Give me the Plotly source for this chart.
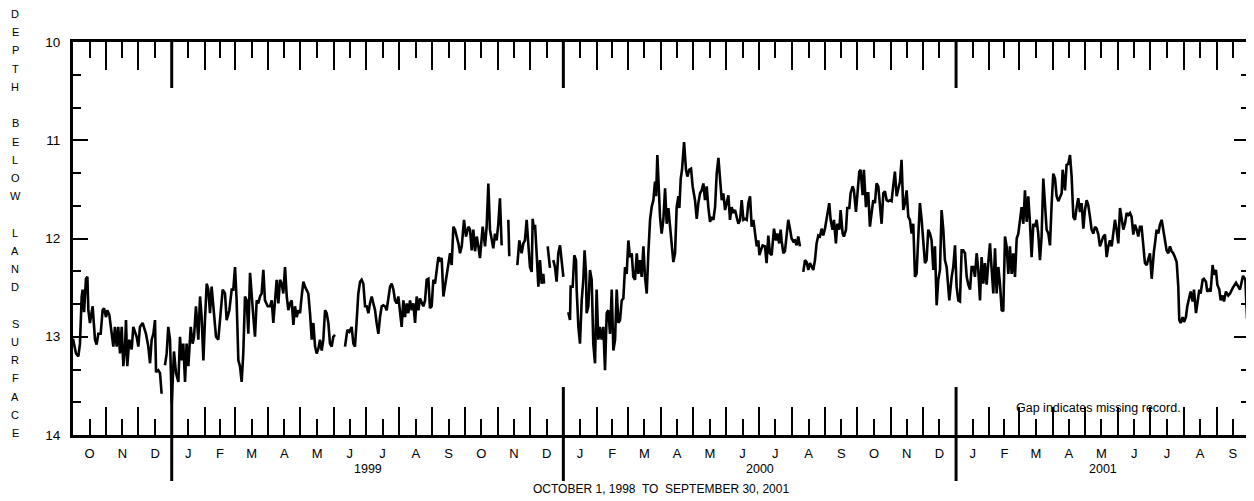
import pandas as pd
import plotly.graph_objects as go

# ---------------- data ----------------
record_start = "1998-10-01"
record_end = "2001-10-01"

# (days since 1998-10-01, depth below land surface in feet); None = missing record
readings = [
    (0, 13.02), (2.8, 13.17), (5, 13.20), (6.5, 13.07), (8.1, 12.59), (9, 12.52), (10.3, 12.75),
    (12.1, 12.41), (13.4, 12.39), (14.3, 12.73), (15.8, 12.86), (18.3, 12.69), (20.5, 13.03),
    (22, 13.08), (23.6, 12.97), (25.8, 12.97), (27.6, 12.73), (28.9, 12.71), (30.8, 12.80),
    (32, 12.73), (33.9, 12.78), (36, 12.97), (37.6, 13.10), (39.1, 12.90), (40.7, 13.10),
    (42.2, 12.90), (43.8, 13.17), (45.4, 12.90), (46.9, 13.30), (48.5, 13.10), (49.4, 12.83),
    (50.6, 13.30), (52.5, 13.03), (54.7, 13.13), (56.2, 12.90), (57.8, 12.95), (59.3, 13.00),
    (60.9, 13.10), (62.4, 12.90), (64.9, 12.86), (66.2, 12.90), (68, 12.97), (70.2, 13.10),
    (71.8, 13.27), (73.3, 13.03), (74.9, 12.97), (76.4, 12.83), (77.4, 13.36), (79.5, 13.34),
    (81.1, 13.37), (82.6, 13.58), (84, None),
    (85.7, 13.29), (87.3, 13.17), (88.8, 12.90), (90.4, 13.03), (92, 13.68), (94.1, 13.15),
    (96, 13.37), (98.2, 13.46), (99.7, 13.00), (101.3, 13.24), (102.8, 13.07), (104.4, 13.46),
    (105.9, 13.07), (107.5, 13.30), (109.7, 12.90), (111.5, 13.07), (112.8, 13.00), (114.6, 12.69),
    (116.8, 13.03), (118.4, 12.59), (119.9, 12.80), (121.5, 13.24), (123, 12.83), (124.6, 12.46),
    (126.1, 12.52), (127.7, 12.76), (129.2, 12.49), (130.8, 12.73), (133.3, 13.00), (135.4, 13.03),
    (137, 12.80), (139.5, 12.52), (141.7, 12.56), (143.2, 12.83), (145.7, 12.73), (147.9, 12.52),
    (149.4, 12.52), (151, 12.29), (152.5, 12.63), (154.1, 13.24), (155.6, 13.30), (157.2, 13.46),
    (158.7, 13.17), (160.3, 12.59), (161.9, 12.63), (163.4, 12.97), (165, 12.35), (166.5, 12.63),
    (168.1, 12.80), (169.6, 13.00), (171.2, 12.63), (172.7, 12.66), (174.3, 12.59), (175.8, 12.56),
    (177.4, 12.32), (178.9, 12.63), (181.5, 12.69), (183.6, 12.69), (185.2, 12.63), (186.7, 12.86),
    (188.3, 12.59), (189.8, 12.42), (191.4, 12.66), (192.9, 12.42), (194.5, 12.46), (196, 12.56),
    (197.6, 12.29), (199.2, 12.59), (200.7, 12.73), (202.3, 12.66), (203.8, 12.63), (205.4, 12.88),
    (206.9, 12.69), (208.5, 12.80), (210, 12.73), (211.6, 12.76), (213.1, 12.59), (214.7, 12.44),
    (216.2, 12.49), (219.3, 12.56), (220.9, 12.76), (222.5, 13.03), (224, 12.86), (225.6, 13.10),
    (227.1, 13.17), (228.7, 13.12), (230.2, 13.03), (231.8, 13.14), (233.3, 13.03), (234.9, 12.73),
    (236.4, 12.76), (238, 12.86), (239.5, 13.07), (241.1, 13.10), (242.6, 13.00), (244.2, 12.98),
    (249, None),
    (253.5, 13.10), (255.7, 12.93), (257.6, 12.95), (259.7, 12.90), (261.3, 13.07), (262.8, 13.10),
    (264.4, 12.83), (265.9, 12.56), (267.5, 12.44), (269, 12.42), (270.6, 12.46), (272.2, 12.69),
    (273.7, 12.69), (275.3, 12.76), (276.8, 12.66), (278.4, 12.59), (279.9, 12.66), (281.5, 12.73),
    (283, 12.86), (284.6, 12.97), (286.1, 12.80), (287.7, 12.69), (289.2, 12.68), (290.8, 12.69),
    (292.3, 12.73), (293.9, 12.63), (295.5, 12.49), (297, 12.46), (298.6, 12.52), (300.1, 12.63),
    (301.7, 12.66), (303.2, 12.59), (304.8, 12.73), (306.3, 12.90), (307.9, 12.63), (309.4, 12.80),
    (311, 12.66), (312.5, 12.76), (314.1, 12.63), (315.6, 12.73), (317.2, 12.66), (318.8, 12.86),
    (320.3, 12.59), (321.9, 12.73), (323.4, 12.61), (325, 12.66), (326.5, 12.69), (328.1, 12.63),
    (329.6, 12.42), (331.2, 12.41), (332.7, 12.71), (334.3, 12.69), (335.8, 12.42), (337.4, 12.46),
    (338.9, 12.35), (340.5, 12.19), (342.1, 12.22), (343.6, 12.20), (345.2, 12.59), (346.7, 12.49),
    (348.3, 12.35), (349.8, 12.29), (351.4, 12.15), (352.9, 12.27), (354.5, 11.88), (356, 11.91),
    (359.2, 12.05), (360.7, 12.15), (362.3, 12.08), (364.4, 11.81), (366.3, 11.98), (368.5, 11.88),
    (370, 11.91), (371.6, 12.12), (373.1, 11.91), (374.7, 12.13), (376.3, 11.98), (377.8, 12.08),
    (379.3, 12.20), (381.8, 11.88), (384, 12.08), (385.5, 11.88), (387.1, 11.44), (388.6, 11.91),
    (390.2, 12.02), (391.7, 12.10), (393.3, 11.95), (394.8, 12.02), (396.4, 11.85), (397.9, 11.59),
    (399.5, 12.07), (402.5, None),
    (405.7, 11.81), (406.6, 12.18), (410, None),
    (414.1, 12.27), (416, 12.02), (418.1, 12.15), (419.7, 12.05), (421.2, 12.02), (422.8, 11.81),
    (424.3, 12.05), (425.9, 12.29), (427.5, 12.34), (428.4, 11.80), (429.6, 11.91), (430.6, 11.86),
    (432.1, 12.15), (433.7, 12.49), (435.2, 12.22), (436.8, 12.46), (438.3, 12.36), (439, 12.46),
    (440.7, None),
    (442.4, 12.08), (444.5, 12.30), (446, None),
    (447.6, 12.22), (449.2, 12.29), (450.7, 12.44), (452.3, 12.15), (453.9, 12.07), (455.4, 12.22),
    (457, 12.39), (459, None),
    (461.6, 12.75), (463.2, 12.83), (463.8, 12.49), (465.7, 12.49), (467.2, 12.17), (468.8, 12.22),
    (469.4, 12.52), (471, 12.90), (472.5, 13.07), (474.1, 12.63), (475.6, 12.42), (476.8, 12.12),
    (478.1, 12.36), (478.7, 12.76), (480.3, 12.69), (481.8, 12.32), (483.4, 12.42), (484.9, 13.07),
    (486.5, 13.27), (488, 12.52), (489.6, 13.03), (491.1, 12.90), (492.7, 13.03), (494.3, 12.90),
    (495.8, 13.34), (497.4, 12.76), (498.9, 12.73), (500.5, 12.97), (502.1, 12.52), (503.6, 13.14),
    (505.2, 13.03), (506.7, 12.52), (508.3, 12.86), (509.8, 12.83), (511.4, 12.63), (512.9, 12.61),
    (514.5, 12.29), (516, 12.36), (517.6, 12.02), (519.1, 12.19), (520.7, 12.15), (522.2, 12.39),
    (523.8, 12.42), (525.4, 12.15), (526.9, 12.36), (528.5, 12.22), (530, 12.39), (531.6, 12.08),
    (533.1, 12.39), (534.7, 12.56), (536.2, 12.15), (537.8, 11.81), (539.3, 11.68), (540.9, 11.61),
    (542.4, 11.42), (543.4, 11.57), (544.6, 11.15), (546.2, 11.64), (547.1, 11.78), (548.6, 11.95),
    (550.2, 11.81), (551.8, 11.49), (553.3, 11.85), (554.9, 11.69), (556.4, 11.85), (558, 12.07),
    (559.5, 12.24), (561.1, 12.15), (562.6, 11.68), (564.2, 11.57), (565.1, 11.69), (566.4, 11.39),
    (567.6, 11.30), (569.5, 11.02), (571.3, 11.30), (572.6, 11.37), (574.4, 11.30), (576, 11.29),
    (577.5, 11.47), (579.7, 11.61), (581.3, 11.80), (582.8, 11.64), (584.4, 11.54), (585.9, 11.51),
    (587.5, 11.44), (589, 11.61), (590.6, 11.47), (592.1, 11.68), (593.7, 11.83), (595.2, 11.78),
    (596.8, 11.81), (598.4, 11.68), (599.9, 11.34), (601.5, 11.18), (603, 11.37), (604.6, 11.61),
    (606.1, 11.54), (607.7, 11.71), (609.2, 11.64), (610.8, 11.56), (612.3, 11.81), (613.9, 11.68),
    (615.4, 11.74), (617, 11.71), (618.5, 11.78), (620.1, 11.85), (621.7, 11.81), (623.2, 11.61),
    (624.8, 11.81), (626.3, 11.80), (627.9, 11.81), (629.4, 11.64), (631, 11.57), (632.5, 11.88),
    (634.1, 11.81), (635.6, 11.96), (637.2, 12.08), (638.7, 12.02), (639.7, 12.17), (640.8, 12.13),
    (642.7, 12.07), (644.9, 12.08), (646.4, 12.25), (648, 11.97), (649.5, 12.15), (651.1, 12.17),
    (653.3, 11.90), (655.1, 12.02), (656.4, 11.95), (658.2, 12.05), (659.5, 11.91), (660.4, 12.02),
    (662, 12.15), (663.5, 12.13), (665.1, 11.95), (666.6, 11.81), (668.2, 11.90), (669.7, 12.00),
    (671.3, 12.03), (672.8, 12.02), (674.4, 12.07), (675.9, 11.98), (677.5, 12.08), (679, None),
    (680.6, 12.34), (682.2, 12.22), (683.7, 12.24), (685.3, 12.32), (686.8, 12.25), (688.4, 12.29),
    (689.9, 12.32), (691.5, 12.22), (693, 12.05), (694.6, 11.97), (696.1, 11.98), (697.7, 11.90),
    (699.2, 11.97), (700.8, 11.90), (702.4, 11.81), (703.9, 11.71), (704.8, 11.64), (706.1, 11.81),
    (707.9, 11.91), (709.2, 11.81), (711, 12.05), (712.3, 11.85), (714.2, 11.91), (715.4, 11.71),
    (717.3, 11.95), (718.5, 11.98), (720.4, 11.91), (721.6, 11.69), (723.5, 11.69), (724.7, 11.54),
    (726.6, 11.47), (727.8, 11.51), (729.7, 11.73), (730.9, 11.57), (732.8, 11.32), (734, 11.30),
    (735.9, 11.56), (737.1, 11.30), (739, 11.68), (740.3, 11.54), (741.2, 11.54), (742.7, 11.88),
    (744.3, 11.71), (745.8, 11.61), (747.4, 11.64), (748.9, 11.44), (750.5, 11.47), (752.1, 11.68),
    (753.6, 11.85), (755.2, 11.54), (756.7, 11.52), (758.3, 11.61), (759.8, 11.62), (761.4, 11.61),
    (762.9, 11.62), (764.5, 11.46), (766, 11.32), (767.6, 11.57), (769.1, 11.51), (770.7, 11.42),
    (772.2, 11.20), (773.8, 11.71), (775.4, 11.64), (776.9, 11.51), (778.5, 11.78), (780, 11.81),
    (781.6, 11.95), (783.1, 11.85), (784.7, 12.39), (786.2, 12.36), (787.8, 11.98), (789.3, 11.64),
    (790.9, 11.81), (792.4, 12.05), (794, 12.25), (795.5, 12.22), (797.1, 11.91), (798.7, 11.95),
    (800.2, 12.02), (801.8, 12.32), (803.3, 12.08), (804.9, 12.68), (806.4, 12.42), (808, 12.32),
    (809.5, 11.71), (811.1, 11.91), (812.6, 12.22), (814.2, 12.29), (815.7, 12.46), (816.7, 12.63),
    (818.9, 12.39), (820.4, 12.29), (822, 12.07), (823.5, 12.49), (825.1, 12.63), (826.6, 12.64),
    (828.2, 12.12), (829.7, 12.12), (831.3, 12.15), (832.9, 12.39), (834.4, 12.47), (836, 12.52),
    (837.5, 12.29), (839.1, 12.29), (840.6, 12.39), (842.2, 12.15), (843.7, 12.32), (845.3, 12.63),
    (846.8, 12.19), (848.4, 12.46), (849.9, 12.25), (851.5, 12.47), (853, 12.25), (854.6, 12.05),
    (856.2, 12.32), (857.7, 12.56), (859.3, 12.10), (860.8, 12.56), (862.4, 12.29), (863.9, 12.46),
    (865.5, 12.73), (867, 12.74), (868.6, 11.98), (870.1, 12.08), (871.7, 12.36), (873.2, 12.08),
    (874.8, 12.36), (876.3, 12.15), (877.9, 12.39), (879.5, 12.00), (881, 11.95), (882.6, 11.78),
    (884.1, 11.68), (885.7, 11.85), (887.2, 11.51), (888.8, 11.83), (890.3, 11.57), (891.9, 11.85),
    (893.4, 12.19), (895, 11.85), (896.5, 11.88), (898.1, 11.81), (899.6, 11.95), (901.2, 12.22),
    (902.7, 11.98), (904.3, 11.39), (905.9, 11.68), (907.4, 11.91), (909, 11.95), (910.5, 12.07),
    (912.1, 11.64), (913.6, 11.34), (915.2, 11.39), (916.7, 11.57), (918.3, 11.62), (919.8, 11.57),
    (921.4, 11.54), (922.3, 11.30), (923.6, 11.44), (924.5, 11.51), (926, 11.25), (927.6, 11.24),
    (929.2, 11.15), (930.7, 11.37), (932.3, 11.78), (933.8, 11.81), (935.4, 11.68), (936.9, 11.59),
    (938.5, 11.73), (940, 11.64), (941.6, 11.90), (943.1, 11.71), (944.7, 11.61), (946.2, 11.66),
    (947.8, 11.78), (949.3, 11.91), (950.9, 11.95), (952.5, 11.88), (954, 11.90), (955.6, 11.96),
    (957.1, 12.08), (958.7, 12.02), (960.2, 11.98), (961.8, 11.96), (963.3, 12.19), (964.9, 12.08),
    (966.4, 12.02), (968, 12.08), (969.5, 11.95), (971.1, 11.81), (972.6, 11.91), (974.2, 12.05),
    (975.8, 11.69), (977.3, 11.78), (978.9, 11.91), (980.4, 11.85), (982, 11.74), (983.5, 11.76),
    (985.1, 11.74), (986.6, 11.78), (988.2, 11.96), (989.7, 11.86), (991.3, 11.91), (992.8, 11.98),
    (994.4, 11.88), (995.9, 11.88), (997.5, 12.08), (999, 12.25), (1000.6, 12.27), (1002.1, 12.22),
    (1003.7, 12.15), (1005.3, 12.41), (1006.2, 12.25), (1007.4, 12.13), (1008.4, 12.05), (1009.9, 11.91),
    (1011.5, 11.95), (1013, 11.86), (1014.6, 11.81), (1016.1, 11.91), (1017.7, 12.02), (1019.2, 12.12),
    (1020.8, 12.15), (1022.3, 12.08), (1023.9, 12.13), (1025.4, 12.15), (1027, 12.19), (1028.6, 12.24),
    (1030.1, 12.49), (1031, 12.83), (1032.3, 12.86), (1034.1, 12.80), (1035.4, 12.85), (1037.2, 12.80),
    (1038.5, 12.69), (1040.4, 12.59), (1041.6, 12.54), (1043.5, 12.64), (1044.7, 12.52), (1046.6, 12.76),
    (1047.8, 12.66), (1049.7, 12.52), (1050.9, 12.56), (1052.8, 12.42), (1054, 12.41), (1055.9, 12.44),
    (1057.1, 12.54), (1059, 12.52), (1060.2, 12.54), (1062.1, 12.27), (1063.3, 12.37), (1065.2, 12.32),
    (1066.5, 12.47), (1068.3, 12.52), (1069.6, 12.63), (1071.4, 12.58), (1072.7, 12.64), (1074.5, 12.54),
    (1076.7, 12.58), (1078.3, 12.56), (1081, 12.50), (1083.9, 12.45), (1087.6, 12.52), (1090.4, 12.38),
    (1092.6, 12.42), (1094.2, 12.82),
]

depth_ticks = [10, 11, 12, 13, 14]
month_initials = ["J", "F", "M", "A", "M", "J", "J", "A", "S", "O", "N", "D"]
year_labels = ["1999", "2000", "2001"]
year_starts = ["1999-01-01", "2000-01-01", "2001-01-01"]
axis_title_words = ["DEPTH", "BELOW", "LAND", "SURFACE"]
period_text = "OCTOBER 1, 1998  TO  SEPTEMBER 30, 2001"
gap_note = "Gap indicates missing record."

# ---------------- derived tables ----------------
base = pd.Timestamp(record_start)
dates = [base + pd.Timedelta(days=d) for d, _ in readings]
depth = [v for _, v in readings]

month_starts = pd.date_range(record_start, record_end, freq="MS")
mid_months = [m + (n - m) / 2 for m, n in zip(month_starts[:-1], month_starts[1:])]
mid_labels = [month_initials[m.month - 1] for m in month_starts[:-1]]

year_bounds = [pd.Timestamp(y) for y in year_starts] + [pd.Timestamp(record_end)]
year_centers = [a + (b - a) / 2 for a, b in zip(year_bounds[:-1], year_bounds[1:])]

FONT = "Liberation Sans, Arial, Helvetica, sans-serif"

# figure geometry (page has an 8px body margin)
W, H = 1246, 493
L, R, T, B = 65, 5, 34, 66
PAGE_OFF = 8
pw, ph = W - L - R, H - T - B


def px_to_paper_x(xp):
    return (xp - PAGE_OFF - L) / pw


def px_to_paper_y(yp):
    return (H - B + PAGE_OFF - yp) / ph


fig = go.Figure()
fig.add_trace(go.Scatter(x=dates, y=depth, mode="lines", connectgaps=False,
                         line=dict(color="black", width=2.6), showlegend=False,
                         hoverinfo="skip"))
# invisible companion trace to anchor the mirrored (top / right) tick axes
fig.add_trace(go.Scatter(x=dates, y=depth, mode="lines", xaxis="x2", yaxis="y2",
                         line=dict(color="rgba(0,0,0,0)", width=0), showlegend=False,
                         hoverinfo="skip"))

xcommon = dict(type="date", range=[record_start, record_end],
               tickmode="array", tickvals=mid_months, ticks="inside", ticklen=16,
               tickwidth=2, tickcolor="black",
               minor=dict(tickmode="array", tickvals=list(month_starts), ticks="inside",
                          ticklen=28, tickwidth=2, tickcolor="black"),
               showgrid=False, zeroline=False, showline=True, linecolor="black", linewidth=3)
ycommon = dict(range=[14, 10], tickmode="array", tickvals=depth_ticks, ticks="inside",
               ticklen=15, tickwidth=2, tickcolor="black",
               minor=dict(tick0=10, dtick=1 / 3, ticks="inside", ticklen=8,
                          tickwidth=2, tickcolor="black"),
               showgrid=False, zeroline=False, showline=True, linecolor="black", linewidth=3)

fig.update_layout(
    width=W, height=H,
    margin=dict(l=L, r=R, t=T, b=B, autoexpand=False),
    paper_bgcolor="white", plot_bgcolor="white",
    font=dict(family=FONT, color="black"),
    xaxis=dict(**xcommon, ticktext=mid_labels, showticklabels=True, ticklabelstandoff=4,
               tickfont=dict(size=13, family=FONT, color="black")),
    xaxis2=dict(**xcommon, overlaying="x", side="top", showticklabels=False),
    yaxis=dict(**ycommon, ticklabelstandoff=7,
               tickfont=dict(size=13.5, family=FONT, color="black")),
    yaxis2=dict(**ycommon, overlaying="y", side="right", showticklabels=False),
)

# year boundary marks (long ticks, top and bottom; bottom one extends below the axis)
for ys in year_starts:
    fig.add_shape(type="line", xref="x", yref="paper", x0=ys, x1=ys, y0=1.0, y1=0.883,
                  line=dict(color="black", width=3))
    fig.add_shape(type="line", xref="x", yref="paper", x0=ys, x1=ys, y0=0.122, y1=-0.117,
                  line=dict(color="black", width=3))

for lab, c in zip(year_labels, year_centers):
    fig.add_annotation(x=c, y=px_to_paper_y(469), xref="x", yref="paper", text=lab,
                       showarrow=False, yanchor="middle",
                       font=dict(size=12.5, family=FONT, color="black"))

fig.add_annotation(x=0.5, y=px_to_paper_y(489), xref="paper", yref="paper", text=period_text,
                   showarrow=False, yanchor="middle",
                   font=dict(size=12, family=FONT, color="black"))

fig.add_annotation(x=px_to_paper_x(1183), y=px_to_paper_y(408), xref="paper", yref="paper",
                   text=gap_note, showarrow=False, xanchor="right", yanchor="middle",
                   font=dict(size=12.5, family=FONT, color="black"))

# stacked vertical axis title: one letter per line, a blank line between words
title_lines = []
for i, w in enumerate(axis_title_words):
    if i:
        title_lines.append("")
    title_lines.extend(list(w))
line_step = (433 - 14) / (len(title_lines) - 1)
for i, ch in enumerate(title_lines):
    if ch:
        fig.add_annotation(x=px_to_paper_x(15), y=px_to_paper_y(14 + i * line_step),
                           xref="paper", yref="paper", text=ch, showarrow=False,
                           xanchor="center", yanchor="middle",
                           font=dict(size=11, family=FONT, color="black"))

fig.write_html("out.html")
